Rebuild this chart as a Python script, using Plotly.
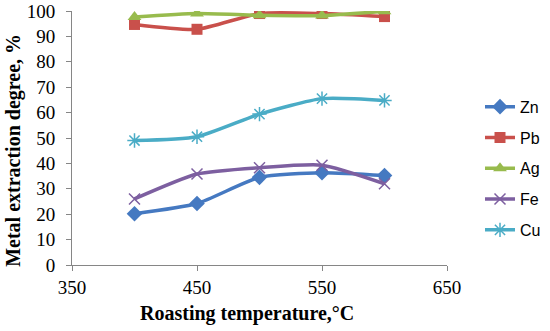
import plotly.graph_objects as go

temps = [400, 450, 500, 550, 600]
zn = [20.2, 24.2, 34.5, 36.3, 35.2]
pb = [94.7, 92.8, 99.0, 99.0, 97.8]
ag = [97.6, 99.0, 98.3, 98.2, 99.9]
fe = [26.0, 35.8, 38.3, 39.3, 32.0]
cu = [49.0, 50.5, 59.4, 65.5, 64.8]

x_ticks = [350, 450, 550, 650]
x_title = "Roasting temperature,°C"
y_title = "Metal extraction degree, %"

series = [
    ("Zn", zn, "#4579C1", "diamond", 12, 0),
    ("Pb", pb, "#C9504B", "square", 11, 0),
    ("Ag", ag, "#98BB4D", "triangle-up", 12, 0),
    ("Fe", fe, "#7D5FA0", "x-thin-open", 11, 1.5),
    ("Cu", cu, "#4AACC6", "asterisk-open", 12, 1.5),
]

fig = go.Figure()
for name, vals, color, sym, size, lw in series:
    marker = dict(symbol=sym, size=size, color=color)
    if lw:
        marker["line"] = dict(color=color, width=lw)
    else:
        marker["line"] = dict(width=0)
    fig.add_trace(go.Scatter(
        x=temps, y=vals, name=name, mode="lines+markers", legendgroup=name,
        line=dict(color=color, width=3.5, shape="spline", smoothing=0.6),
        marker=marker,
    ))

serif = "Palatino Linotype, Book Antiqua, Liberation Serif, serif"
axis_font = dict(family=serif, size=19, color="#000")
title_font = dict(family=serif, size=20, color="#000")
fig.update_layout(
    width=550, height=331,
    paper_bgcolor="white", plot_bgcolor="white",
    margin=dict(l=72, r=103, t=11, b=66, autoexpand=False),
    legend=dict(x=1.088, y=0.69, xanchor="left", yanchor="top",
                font=dict(family="Liberation Sans, Arial, sans-serif", size=16, color="#000"),
                tracegroupgap=7, itemwidth=30, bgcolor="rgba(0,0,0,0)"),
    xaxis=dict(range=[350, 650], tickvals=x_ticks, showgrid=False, zeroline=False,
               showline=True, linecolor="#868686", linewidth=1, ticks="outside", ticklen=5,
               tickcolor="#868686", tickfont=axis_font, automargin=False),
    yaxis=dict(range=[0, 100], dtick=10, showgrid=False, zeroline=False,
               showline=True, linecolor="#868686", linewidth=1, ticks="outside", ticklen=5,
               tickcolor="#868686", tickfont=axis_font, ticklabelstandoff=7, automargin=False),
    annotations=[
        dict(text="<b>" + x_title + "</b>", xref="paper", yref="paper",
             x=0.467, y=-0.19, xanchor="center", yanchor="middle",
             showarrow=False, font=title_font),
        dict(text="<b>" + y_title + "</b>", xref="paper", yref="paper",
             x=-0.155, y=0.453, xanchor="center", yanchor="middle", textangle=-90,
             showarrow=False, font=title_font),
    ],
)

fig.write_html("out.html", config={"displayModeBar": False},
               post_script="document.body.style.margin='0';")
